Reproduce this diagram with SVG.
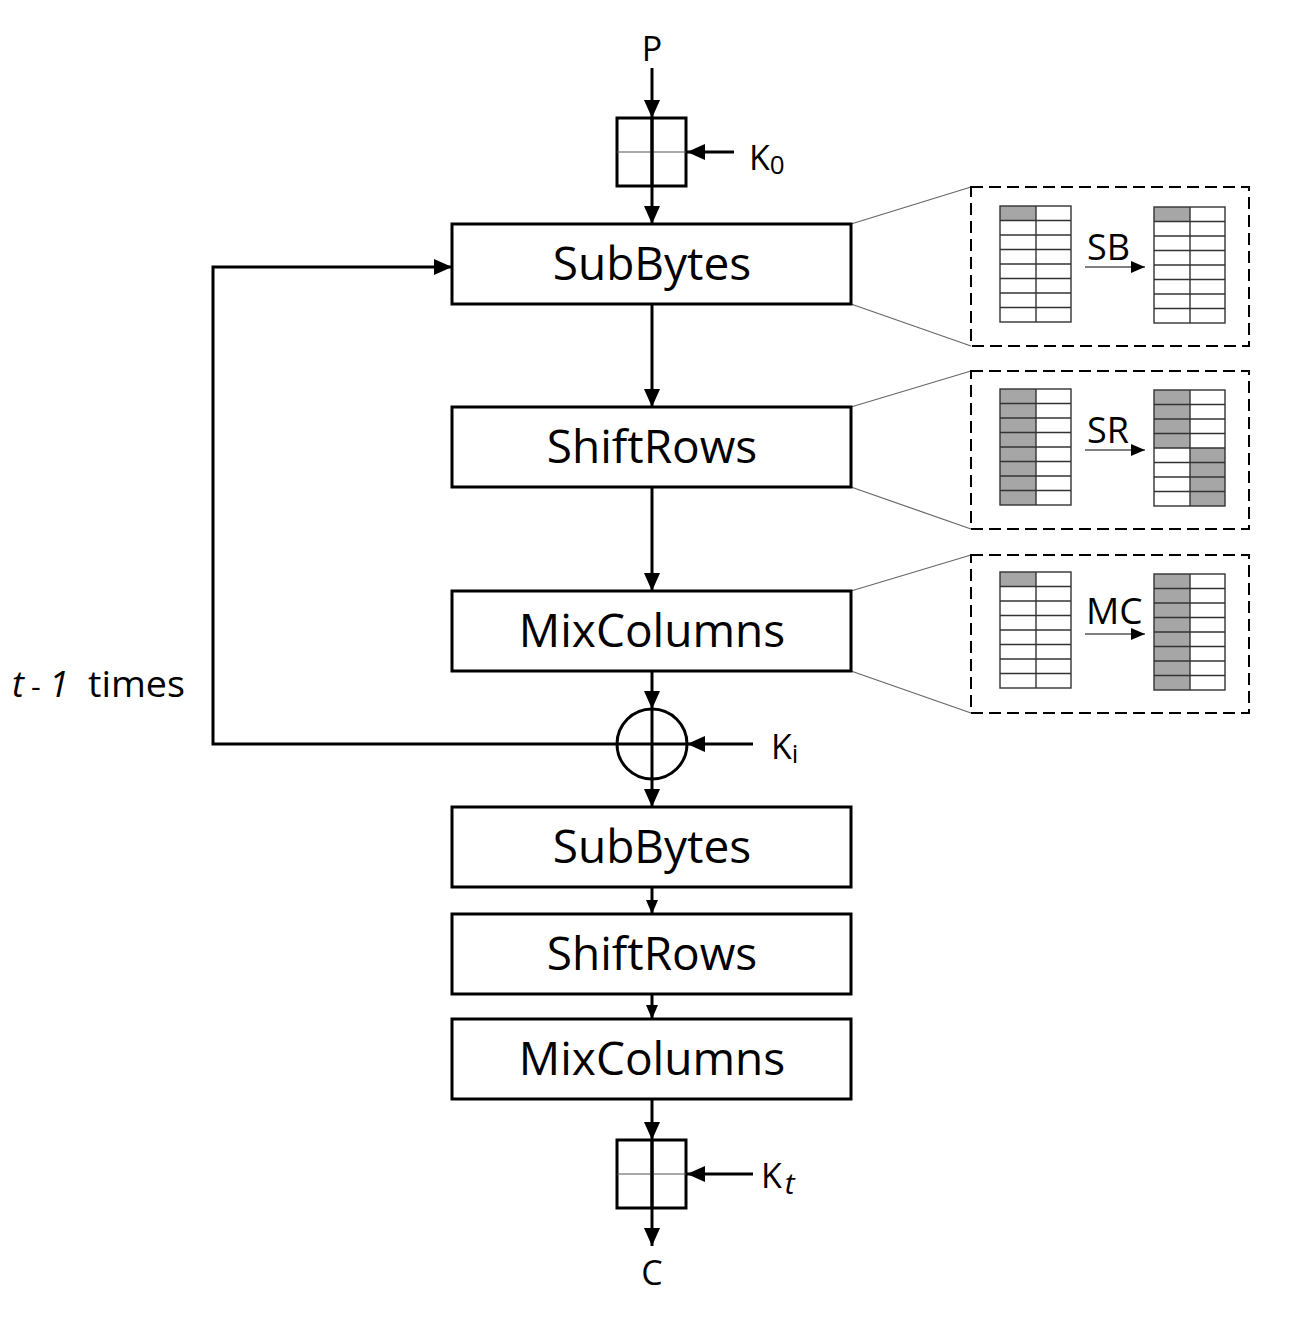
<svg xmlns="http://www.w3.org/2000/svg" xmlns:xlink="http://www.w3.org/1999/xlink" width="1300" height="1320" viewBox="0 0 1300 1320">
<style>
  .box { fill: #fff; stroke: #000; stroke-width: 3; }
  .lbl { font-family: "Open Sans", "Noto Sans", sans-serif; fill: #000; }
  .main { font-size: 46px; text-anchor: middle; }
  .wire { fill: none; stroke: #000; stroke-width: 3; }
  .thin { fill: none; stroke: #666; stroke-width: 1.2; }
  .dash { fill: none; stroke: #000; stroke-width: 2; stroke-dasharray: 12 6; }
  .gl { stroke: #333; stroke-width: 1.4; fill: none; }
  .gray { fill: #a6a6a6; }
</style>
<defs>
  <marker id="ah" viewBox="0 0 18 16" refX="18" refY="8" markerWidth="18" markerHeight="16" markerUnits="userSpaceOnUse" orient="auto">
    <path d="M0,0 L18,8 L0,16 Z" fill="#000"/>
  </marker>
  <marker id="ahs" viewBox="0 0 14 12" refX="14" refY="6" markerWidth="14" markerHeight="12" markerUnits="userSpaceOnUse" orient="auto">
    <path d="M0,0 L14,6 L0,12 Z" fill="#000"/>
  </marker>
  <g id="grid">
    <rect x="0" y="0" width="71" height="116" class="gl"/>
    <line x1="36" y1="0" x2="36" y2="116" class="gl"/>
    <line x1="0" y1="14.5" x2="71" y2="14.5" class="gl"/>
    <line x1="0" y1="29" x2="71" y2="29" class="gl"/>
    <line x1="0" y1="43.5" x2="71" y2="43.5" class="gl"/>
    <line x1="0" y1="58" x2="71" y2="58" class="gl"/>
    <line x1="0" y1="72.5" x2="71" y2="72.5" class="gl"/>
    <line x1="0" y1="87" x2="71" y2="87" class="gl"/>
    <line x1="0" y1="101.5" x2="71" y2="101.5" class="gl"/>
  </g>
</defs>
<rect width="1300" height="1320" fill="#fff"/>

<g id="connectors">
  <line x1="652" y1="68" x2="652" y2="118" class="wire" marker-end="url(#ah)"/>
  <line x1="652" y1="118" x2="652" y2="224" class="wire" marker-end="url(#ah)"/>
  <line x1="734" y1="152" x2="687" y2="152" class="wire" marker-end="url(#ah)"/>
  <line x1="652" y1="304" x2="652" y2="407" class="wire" marker-end="url(#ah)"/>
  <line x1="652" y1="487" x2="652" y2="591" class="wire" marker-end="url(#ah)"/>
  <line x1="652" y1="671" x2="652" y2="709" class="wire" marker-end="url(#ah)"/>
  <line x1="652" y1="779" x2="652" y2="807" class="wire" marker-end="url(#ah)"/>
  <line x1="753" y1="744" x2="687" y2="744" class="wire" marker-end="url(#ah)"/>
  <polyline points="617,744 213,744 213,267 452,267" class="wire" marker-end="url(#ah)"/>
  <line x1="652" y1="887" x2="652" y2="914" class="wire" marker-end="url(#ahs)"/>
  <line x1="652" y1="994" x2="652" y2="1019" class="wire" marker-end="url(#ahs)"/>
  <line x1="652" y1="1099" x2="652" y2="1140" class="wire" marker-end="url(#ah)"/>
  <line x1="652" y1="1140" x2="652" y2="1246" class="wire" marker-end="url(#ah)"/>
  <line x1="753" y1="1174" x2="687" y2="1174" class="wire" marker-end="url(#ah)"/>
  <line x1="851" y1="224" x2="971" y2="187" class="thin"/>
  <line x1="851" y1="304" x2="971" y2="346" class="thin"/>
  <line x1="851" y1="407" x2="971" y2="371" class="thin"/>
  <line x1="851" y1="487" x2="971" y2="529" class="thin"/>
  <line x1="851" y1="591" x2="971" y2="555" class="thin"/>
  <line x1="851" y1="671" x2="971" y2="713" class="thin"/>
</g>

<g id="P"><text x="652" y="61" class="lbl" font-size="34" text-anchor="middle">P</text></g>

<g id="addkey0">
  <rect x="617" y="118" width="69" height="68" fill="none" stroke="#000" stroke-width="3"/>
  <line x1="617" y1="152" x2="686" y2="152" stroke="#555" stroke-width="1.2"/>
  <line x1="652" y1="118" x2="652" y2="186" stroke="#000" stroke-width="3"/>
</g>
<g id="K0"><text x="749" y="170" class="lbl" font-size="34">K<tspan font-size="26" dy="4">0</tspan></text></g>

<g id="subbytes1"><rect x="452" y="224" width="399" height="80" class="box"/><text x="652" y="280" class="lbl main">SubBytes</text></g>
<g id="shiftrows1"><rect x="452" y="407" width="399" height="80" class="box"/><text x="652" y="463" class="lbl main">ShiftRows</text></g>
<g id="mixcolumns1"><rect x="452" y="591" width="399" height="80" class="box"/><text x="652" y="647" class="lbl main">MixColumns</text></g>

<g id="xor">
  <circle cx="652" cy="744" r="35" fill="none" stroke="#000" stroke-width="3"/>
  <line x1="617" y1="744" x2="687" y2="744" stroke="#000" stroke-width="3"/>
  <line x1="652" y1="709" x2="652" y2="779" stroke="#000" stroke-width="3"/>
</g>
<g id="Ki"><text x="771" y="759" class="lbl" font-size="34">K<tspan font-size="26" dy="4">i</tspan></text></g>

<g id="loop-label">
  <text x="12" y="697" class="lbl" font-size="36" font-style="italic">t</text>
  <text x="31" y="697" class="lbl" font-size="30">-</text>
  <text x="49" y="697" class="lbl" font-size="36" font-style="italic">1</text>
  <text x="88" y="697" class="lbl" font-size="36" textLength="97" lengthAdjust="spacingAndGlyphs">times</text>
</g>

<g id="subbytes2"><rect x="452" y="807" width="399" height="80" class="box"/><text x="652" y="863" class="lbl main">SubBytes</text></g>
<g id="shiftrows2"><rect x="452" y="914" width="399" height="80" class="box"/><text x="652" y="970" class="lbl main">ShiftRows</text></g>
<g id="mixcolumns2"><rect x="452" y="1019" width="399" height="80" class="box"/><text x="652" y="1075" class="lbl main">MixColumns</text></g>

<g id="addkeyt">
  <rect x="617" y="1140" width="69" height="68" fill="none" stroke="#000" stroke-width="3"/>
  <line x1="617" y1="1174" x2="686" y2="1174" stroke="#555" stroke-width="1.2"/>
  <line x1="652" y1="1140" x2="652" y2="1208" stroke="#000" stroke-width="3"/>
</g>
<g id="Kt"><text x="761" y="1188" class="lbl" font-size="34">K<tspan font-size="30" font-style="italic" dx="3" dy="6">t</tspan></text></g>
<g id="C"><text x="652" y="1285" class="lbl" font-size="34" text-anchor="middle">C</text></g>

<g id="panel-sb">
  <rect x="971" y="187" width="278" height="159" class="dash"/>
  <rect x="1000" y="206" width="36" height="14.5" class="gray"/>
  <use xlink:href="#grid" x="1000" y="206"/>
  <rect x="1154" y="207" width="36" height="14.5" class="gray"/>
  <use xlink:href="#grid" x="1154" y="207"/>
  <line x1="1085" y1="267" x2="1145" y2="267" stroke="#555" stroke-width="1.5" marker-end="url(#ahs)"/>
  <text x="1087" y="260" class="lbl" font-size="36">SB</text>
</g>

<g id="panel-sr">
  <rect x="971" y="371" width="278" height="158" class="dash"/>
  <rect x="1000" y="389" width="36" height="116" class="gray"/>
  <use xlink:href="#grid" x="1000" y="389"/>
  <rect x="1154" y="390" width="36" height="58" class="gray"/>
  <rect x="1190" y="448" width="35" height="58" class="gray"/>
  <use xlink:href="#grid" x="1154" y="390"/>
  <line x1="1085" y1="450" x2="1145" y2="450" stroke="#555" stroke-width="1.5" marker-end="url(#ahs)"/>
  <text x="1087" y="443" class="lbl" font-size="36">SR</text>
</g>

<g id="panel-mc">
  <rect x="971" y="555" width="278" height="158" class="dash"/>
  <rect x="1000" y="572" width="36" height="14.5" class="gray"/>
  <use xlink:href="#grid" x="1000" y="572"/>
  <rect x="1154" y="574" width="36" height="116" class="gray"/>
  <use xlink:href="#grid" x="1154" y="574"/>
  <line x1="1085" y1="634" x2="1145" y2="634" stroke="#555" stroke-width="1.5" marker-end="url(#ahs)"/>
  <text x="1086" y="624" class="lbl" font-size="37">MC</text>
</g>
</svg>
